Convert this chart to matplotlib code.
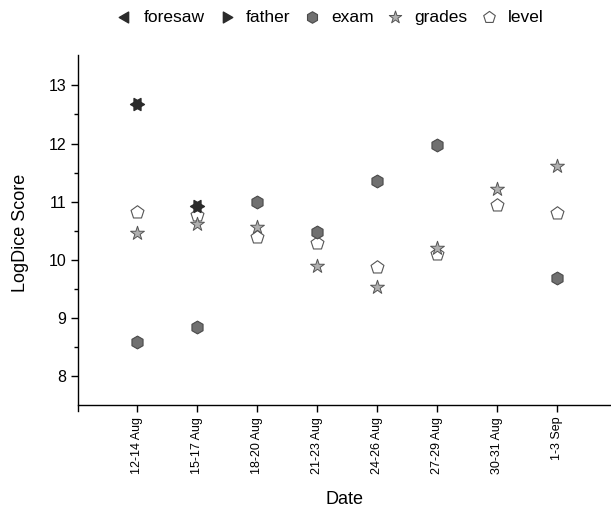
import numpy as np
import matplotlib.pyplot as plt

plt.rcParams['font.family'] = ['Liberation Sans', 'DejaVu Sans']

dates = ['12-14 Aug', '15-17 Aug', '18-20 Aug', '21-23 Aug',
         '24-26 Aug', '27-29 Aug', '30-31 Aug', '1-3 Sep']

foresaw = [12.68, 10.92]
father = [12.68, 10.92]
exam = [8.59, 8.84, 11.00, 10.48, 11.36, 11.97, np.nan, 9.68]
grades = [10.46, 10.62, 10.56, 9.89, 9.53, 10.20, 11.22, 11.62]
level = [10.83, 10.77, 10.39, 10.29, 9.88, 10.10, 10.95, 10.81]

x = np.arange(len(dates))

fig = plt.figure(figsize=(6.11, 5.11), dpi=100)
ax = fig.add_axes([0.128, 0.196, 0.872, 0.696])

# left/right triangles sit on top of each other and read as a six-point star
ax.scatter(x[:2], foresaw, marker=(3, 0, 90), s=100, color='#2b2b2b', label='foresaw', zorder=4)
ax.scatter(x[:2], father, marker=(3, 0, -90), s=100, color='#2b2b2b', label='father', zorder=4)
ax.scatter(x, exam, marker='h', s=85, facecolor='#707070', edgecolor='#4a4a4a',
           linewidth=0.8, label='exam', zorder=3)
ax.scatter(x, grades, marker='*', s=110, facecolor='#b0b0b0', edgecolor='#555555',
           linewidth=0.7, label='grades', zorder=3)
ax.scatter(x, level, marker='p', s=95, facecolor='white', edgecolor='#555555',
           linewidth=0.8, label='level', zorder=2)

ax.set_xlim(-0.98, 7.9)
ax.set_ylim(7.4, 13.52)
ax.spines['bottom'].set_position(('data', 7.5))
ax.spines['top'].set_visible(False)
ax.spines['right'].set_visible(False)
for s in ['left', 'bottom']:
    ax.spines[s].set_linewidth(1.0)

ax.set_xticks(x)
ax.set_xticklabels(dates, rotation=90, fontsize=9)
ax.set_yticks([8, 9, 10, 11, 12, 13])
ax.set_yticks(np.arange(8.5, 13.5, 1.0), minor=True)
ax.tick_params(axis='y', labelsize=11.5, length=5, width=1)
ax.tick_params(axis='y', which='minor', length=3, width=1)
ax.tick_params(axis='x', length=5, width=1)

ax.set_xlabel('Date', fontsize=13, labelpad=12)
ax.set_ylabel('LogDice Score', fontsize=13, labelpad=14)

leg = fig.legend(loc='upper center', bbox_to_anchor=(0.54, 1.012), ncol=5, frameon=False,
                 fontsize=12.5, handlelength=1.0, handletextpad=0.6,
                 columnspacing=0.75, markerscale=0.9)

fig.savefig('out.png', dpi=100)
